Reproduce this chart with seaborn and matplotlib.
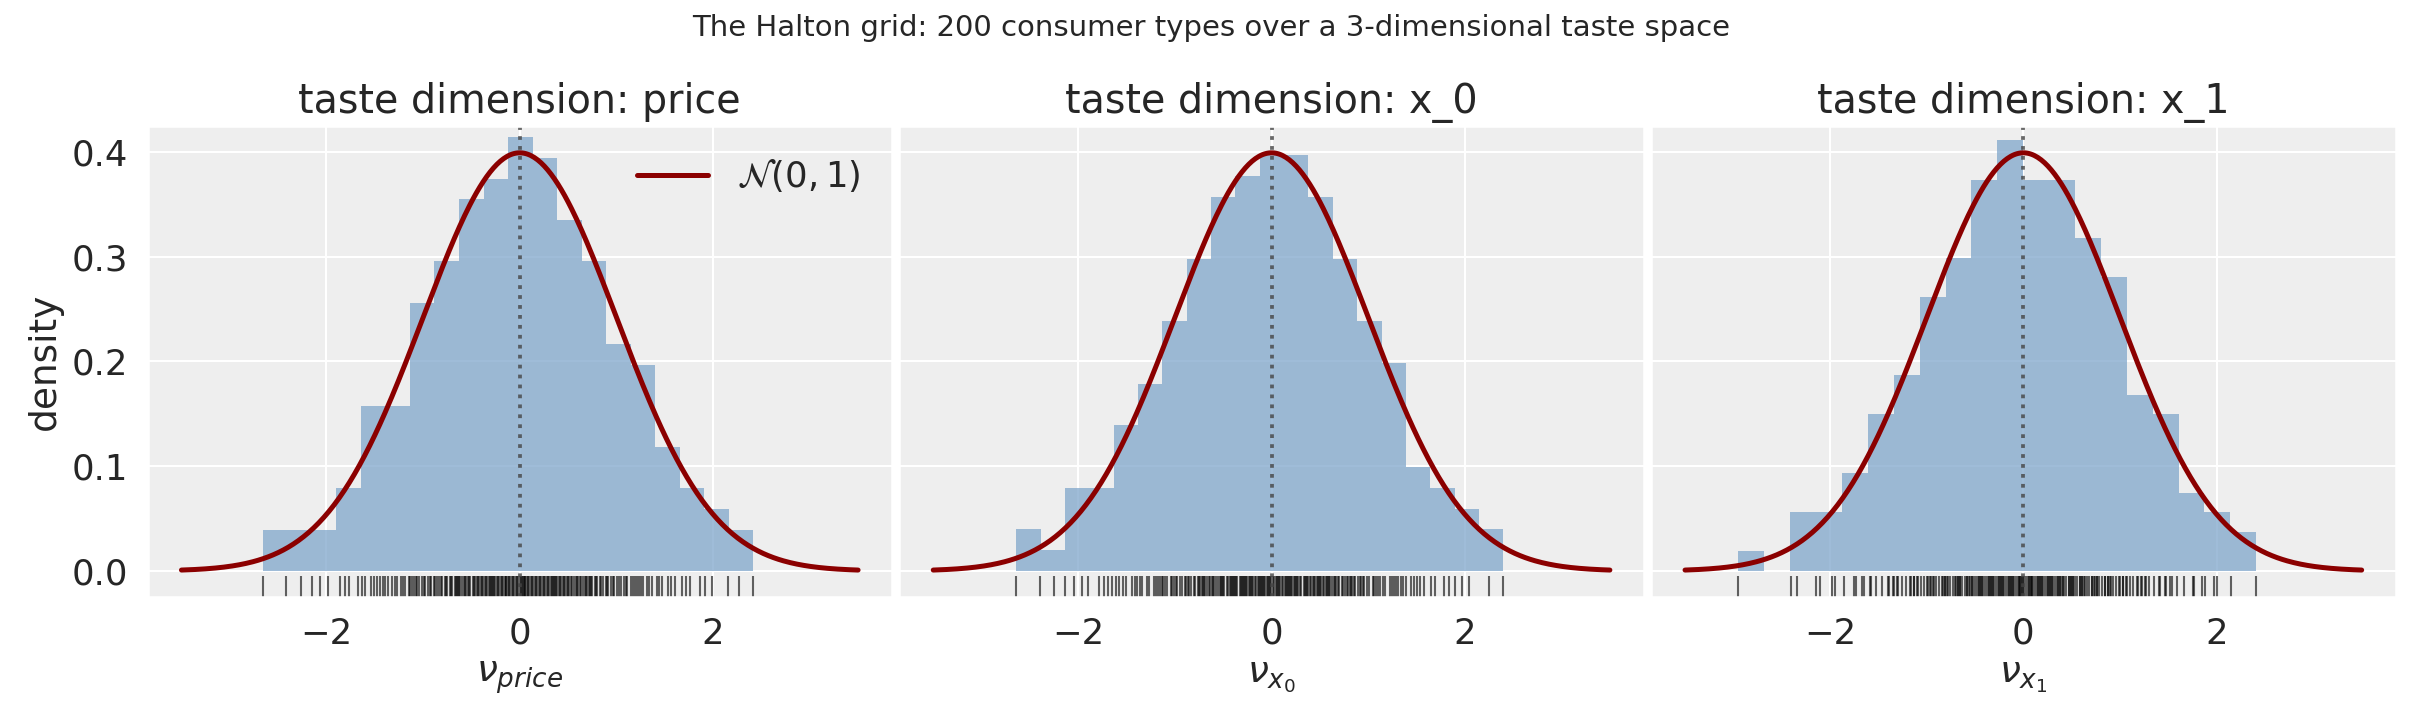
import numpy as np
import pandas as pd
import seaborn as sns
import matplotlib
matplotlib.use("Agg")
import matplotlib.pyplot as plt
from statistics import NormalDist

dims = ["price", "x_0", "x_1"]
xlabels = [r"$\nu_{price}$", r"$\nu_{x_0}$", r"$\nu_{x_1}$"]
bases = [2, 3, 5]
n_types = 200

def radical_inverse(i, b):
    f, r = 1.0, 0.0
    while i > 0:
        f /= b
        r += f * (i % b)
        i //= b
    return r

nd = NormalDist()
draws = {d: np.array([nd.inv_cdf(radical_inverse(i, b)) for i in range(1, n_types + 1)])
         for d, b in zip(dims, bases)}

sns.set_theme(style="darkgrid", rc={"axes.facecolor": "#eeeeee", "grid.color": "white"})
plt.rcParams['font.family'] = ['DejaVu Sans']
fig, axes = plt.subplots(1, 3, figsize=(16.15, 4.82), dpi=150, sharey=True)
grid = np.linspace(-3.5, 3.5, 400)
pdf = np.array([nd.pdf(v) for v in grid])
for ax, d, xl in zip(axes, dims, xlabels):
    sns.histplot(x=draws[d], bins=20, stat="density", ax=ax, color="#7fa6cb",
                 alpha=0.75, edgecolor="none", linewidth=0)
    sns.rugplot(x=draws[d], ax=ax, color="black", alpha=0.6, height=0.045, lw=0.8)
    sns.lineplot(x=grid, y=pdf, ax=ax, color="#8b0000", lw=2.4,
                 label=r"$\mathcal{N}(0,1)$" if d == "price" else None)
    ax.axvline(0, color="#444444", ls=":", lw=1.8, alpha=0.8)
    ax.set_title(f"taste dimension: {d}", fontsize=19)
    ax.set_xlabel(xl, fontsize=18)
    ax.set_ylabel("density" if d == "price" else "", fontsize=18)
    ax.tick_params(labelsize=17)
    ax.set_xticks([-2, 0, 2])
    ax.set_ylim(-0.025, 0.425)
axes[0].legend(loc="upper right", frameon=False, fontsize=17)
fig.suptitle("The Halton grid: 200 consumer types over a 3-dimensional taste space", fontsize=14)
fig.tight_layout(w_pad=0.3)
fig.savefig("out.png", dpi=150)
